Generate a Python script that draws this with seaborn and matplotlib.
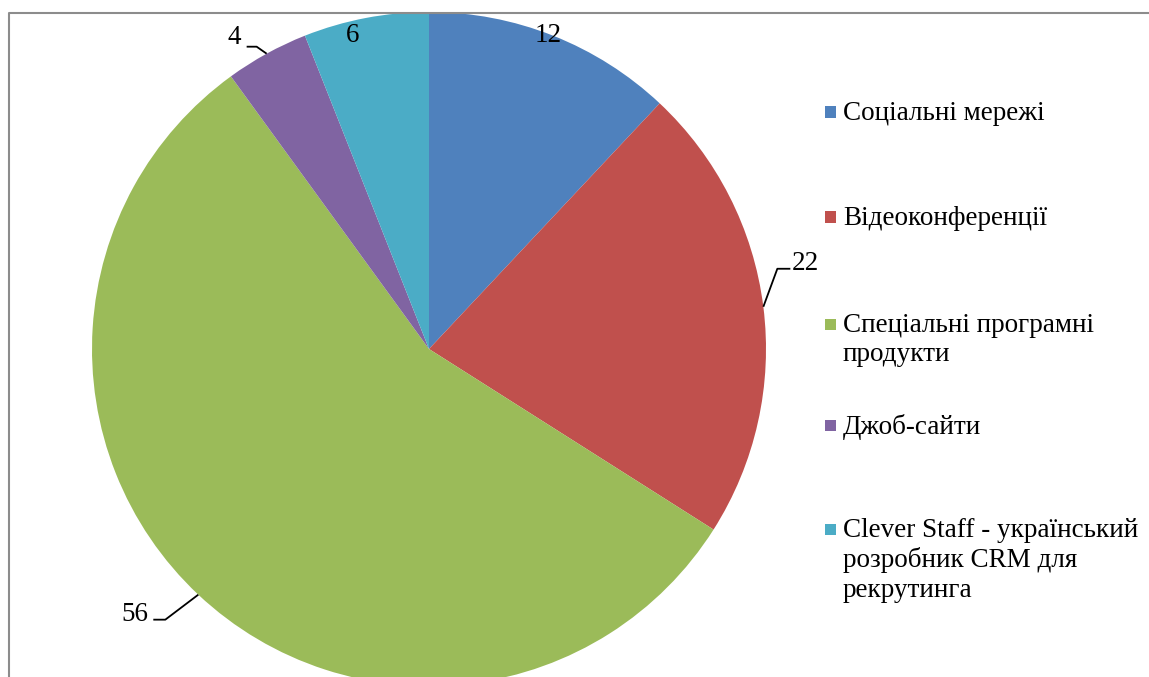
import numpy as np
import matplotlib
matplotlib.use("Agg")
import matplotlib.pyplot as plt
import seaborn as sns
from matplotlib.lines import Line2D
from matplotlib.patches import Rectangle

sns.set_theme(style="white")
plt.rcParams["font.family"] = ["Liberation Serif", "DejaVu Serif"]

# Data
categories = [
    "Соціальні мережі",
    "Відеоконференції",
    "Спеціальні програмні\nпродукти",
    "Джоб-сайти",
    "Clever Staff - український\nрозробник CRM для\nрекрутинга",
]
values = [12, 22, 56, 4, 6]
colors = ["#4F81BD", "#C0504D", "#9BBB59", "#8064A2", "#4BACC6"]

W, H = 1149, 677
fig = plt.figure(figsize=(W / 100, H / 100), dpi=100)

# Pie geometry in pixels
cx, cy, R = 429, 349, 337
ax = fig.add_axes([(cx - R) / W, (H - cy - R) / H, 2 * R / W, 2 * R / H])
wedges, _ = ax.pie(values, colors=colors, startangle=90, counterclock=False,
                   radius=1.0, wedgeprops=dict(linewidth=0))
ax.set_xlim(-1, 1)
ax.set_ylim(-1, 1)
ax.set_aspect("equal")
ax.axis("off")

FS = 19.5
px = 1.0 / R  # one pixel in data units

# Label placement: (text offset from wedge edge point in px (dx, dy down),
#                   leader polyline offsets in px or None)
label_layout = [
    ((-5, 0), None),
    ((42, -43), [(0, 0), (14, -38), (27, -38)]),
    ((-63, 20), [(0, 0), (-33, 25), (-45, 25)]),
    ((-32, -16), [(0, 0), (-10, -7), (-20, -7)]),
    ((-13, 18), None),
]

total = float(sum(values))
cum = 0.0
for v, (toff, leader) in zip(values, label_layout):
    mid = 90.0 - 360.0 * (cum + v / 2.0) / total
    cum += v
    ex, ey = np.cos(np.radians(mid)), np.sin(np.radians(mid))
    if leader is not None:
        xs = [ex + p[0] * px for p in leader]
        ys = [ey - p[1] * px for p in leader]
        ax.plot(xs, ys, color="black", linewidth=1.3, clip_on=False,
                solid_capstyle="butt")
    ax.text(ex + toff[0] * px, ey - toff[1] * px, f"{v}", fontsize=FS,
            ha="center", va="center", color="black", clip_on=False)

# Legend
legend_y = [112, 217, 324, 425, 529]
for lab, col, y in zip(categories, colors, legend_y):
    fig.patches.append(Rectangle(((825) / W, (H - y - 5.5) / H), 11 / W, 11 / H,
                                 transform=fig.transFigure, facecolor=col,
                                 edgecolor="none", figure=fig))
    fig.text(843 / W, (H - y + 11) / H, lab, fontsize=FS, ha="left", va="top",
             color="black", linespacing=1.22, transform=fig.transFigure)

# Chart area border
fig.lines.append(Line2D([8.5 / W, 8.5 / W, 1.0], [0, (H - 12.5) / H, (H - 12.5) / H],
                        transform=fig.transFigure, color="#8c8c8c", linewidth=1.5))

fig.savefig("out.png", dpi=100, facecolor="white")
